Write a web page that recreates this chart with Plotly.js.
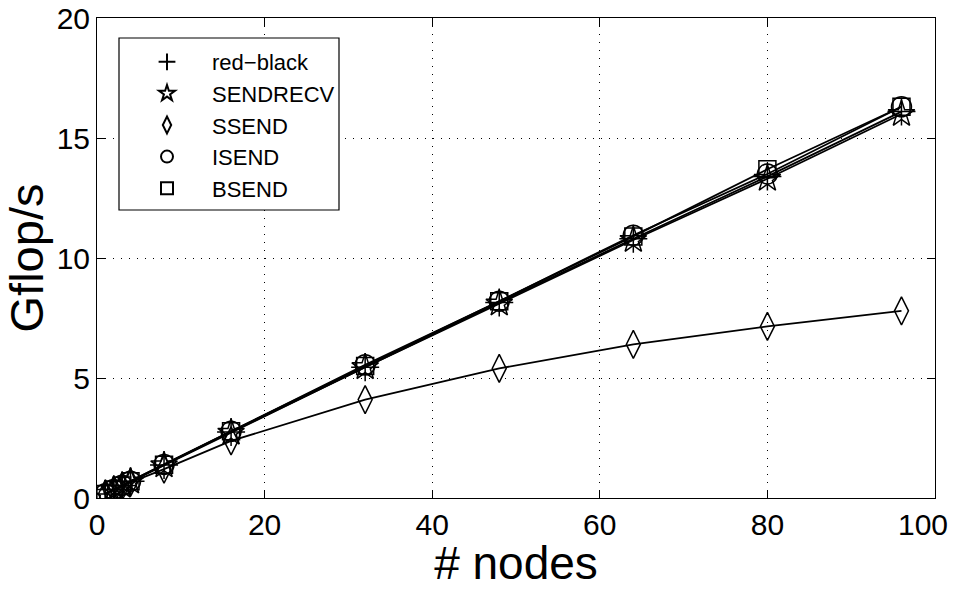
<!DOCTYPE html>
<html>
<head>
<meta charset="utf-8">
<script src="https://cdn.plot.ly/plotly-3.0.1.min.js"></script>
<style>html,body{margin:0;padding:0;background:#fff;}#chart{width:953px;height:589px;}</style>
</head>
<body>
<div id="chart"></div>
<script>
const nodes = [1, 2, 3, 4, 8, 16, 32, 48, 64, 80, 96];
const redBlack = [0.17, 0.35, 0.52, 0.70, 1.38, 2.75, 5.45, 8.15, 10.80, 13.40, 16.10];
const sendrecv = [0.17, 0.34, 0.51, 0.68, 1.36, 2.72, 5.45, 8.10, 10.75, 13.30, 16.00];
const ssend    = [0.17, 0.33, 0.49, 0.65, 1.20, 2.38, 4.10, 5.40, 6.40, 7.15, 7.80];
const isend    = [0.18, 0.35, 0.53, 0.70, 1.40, 2.78, 5.55, 8.20, 10.95, 13.50, 16.30];
const bsend    = [0.17, 0.35, 0.52, 0.70, 1.39, 2.78, 5.50, 8.20, 10.90, 13.70, 16.30];

const xTickVals = [0, 20, 40, 60, 80, 100];
const xTickText = ['0', '20', '40', '60', '80', ''];
const xLastTick = '100';
const yTickVals = [0, 5, 10, 15, 20];

const seriesNames = ['red\u2212black', 'SENDRECV', 'SSEND', 'ISEND', 'BSEND'];
const seriesData = [redBlack, sendrecv, ssend, isend, bsend];
const symbols = ['cross-thin-open', 'star-open', 'diamond-tall-open', 'circle-open', 'square-open'];
const sizes = [20, 20, 20, 20, 17];

const FONT = 'Liberation Sans, Arial, sans-serif';

const traces = [];
seriesData.forEach((ys, i) => {
  traces.push({
    x: nodes, y: ys, type: 'scatter', mode: 'lines',
    line: {color: '#000', width: 1.8},
    showlegend: false, hoverinfo: 'skip'
  });
});
seriesData.forEach((ys, i) => {
  traces.push({
    x: nodes, y: ys, type: 'scatter', mode: 'markers',
    name: seriesNames[i],
    marker: {symbol: symbols[i], size: sizes[i], color: '#000', line: {color: '#000', width: 1.5}}
  });
});

const axisCommon = {
  showline: true, linecolor: '#000', linewidth: 1, mirror: 'ticks',
  ticks: 'inside', ticklen: 8, tickcolor: '#000', tickwidth: 1,
  showgrid: true, gridcolor: '#000', gridwidth: 1, griddash: '1px,7px',
  zeroline: false,
  tickfont: {family: FONT, size: 30, color: '#000'}
};

const layout = {
  width: 953, height: 589,
  margin: {l: 97, r: 18, t: 18, b: 91},
  paper_bgcolor: '#fff', plot_bgcolor: '#fff',
  font: {family: FONT, color: '#000'},
  xaxis: Object.assign({}, axisCommon, {
    range: [0, 100], tickmode: 'array', tickvals: xTickVals, ticktext: xTickText,
    title: {text: '# nodes', font: {size: 46, color: '#000'}, standoff: 2}
  }),
  yaxis: Object.assign({}, axisCommon, {
    range: [0, 20], tickmode: 'array', tickvals: yTickVals,
    title: {text: 'Gflop/s', font: {size: 47, color: '#000'}, standoff: 4}
  }),
  annotations: [{
    x: xTickVals[xTickVals.length - 1], xref: 'x', y: 0, yref: 'paper',
    text: xLastTick, showarrow: false, xanchor: 'center', yanchor: 'top',
    xshift: -12, yshift: -9, borderpad: 0,
    font: {family: FONT, size: 30, color: '#000'}
  }],
  shapes: [{
    type: 'rect', xref: 'paper', yref: 'paper', layer: 'above',
    x0: (119 - 97) / 838, x1: (339 - 97) / 838,
    y0: (498 - 210) / 480, y1: (498 - 38) / 480,
    fillcolor: '#fff', line: {color: '#000', width: 1.2}
  }],
  legend: {
    x: (122 - 97) / 838, y: (498 - 41) / 480, xanchor: 'left', yanchor: 'top',
    bgcolor: 'rgba(0,0,0,0)', borderwidth: 0,
    itemsizing: 'constant', itemwidth: 80,
    font: {family: FONT, size: 22, color: '#000'},
    tracegroupgap: 0
  },
  showlegend: true
};

Plotly.newPlot('chart', traces, layout, {displayModeBar: false, staticPlot: true});
</script>
</body>
</html>
